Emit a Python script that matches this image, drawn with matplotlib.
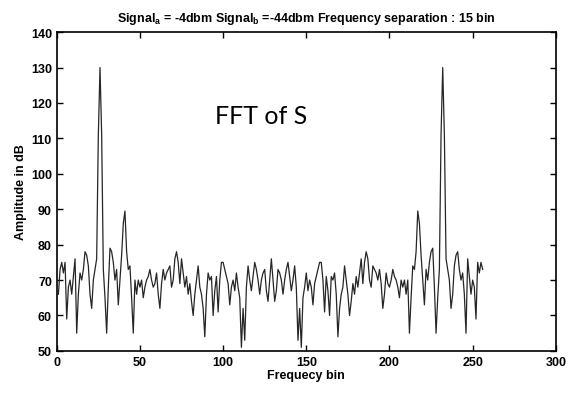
import numpy as np
import matplotlib
matplotlib.use('Agg')
import matplotlib.pyplot as plt

plt.rcParams['font.family'] = ['Liberation Sans', 'DejaVu Sans']
plt.rcParams['mathtext.fontset'] = 'custom'
plt.rcParams['mathtext.bf'] = 'Liberation Sans:bold'
plt.rcParams['mathtext.rm'] = 'Liberation Sans'

# frequency bins 1..256
bins = list(range(1, 257))

# amplitude in dB (bins 1..256)
amp_db = [
    66, 73, 75, 72, 75, 59, 68, 70, 66, 71, 76, 55, 66, 72, 70, 73,
    78, 77, 74, 66, 62, 70, 73, 76, 111, 130, 111, 73, 65, 55, 68, 79,
    78, 75, 70, 73, 63, 70, 77, 86, 89.5, 78, 73, 74, 65, 55, 70, 66,
    70, 68, 70, 65, 68, 70, 71, 73, 70, 68, 69, 72, 66, 62, 69, 73,
    70, 72, 73, 74, 68, 70, 76, 78, 75, 69, 76, 72, 68, 71, 66, 69,
    64, 60, 66, 70, 74, 68, 66, 62, 54, 66, 72, 70, 71, 60, 67, 71,
    61, 70, 75, 75, 73, 71, 69, 63, 68, 70, 67, 72, 68, 65, 51, 62,
    53, 68, 74, 70, 67, 71, 75, 73, 70, 66, 70, 72, 73, 67, 64, 70,
    76,
    70, 64, 67, 73, 72, 70, 66, 70, 73, 75, 71, 67, 70, 74, 68, 53,
    62, 51, 65, 68, 72, 67, 70, 68, 63, 69, 71, 73, 75, 75, 70, 61,
    71, 67, 60, 71, 70, 72, 66, 54, 62, 66, 68, 74, 70, 66, 60, 64,
    69, 66, 71, 68, 72, 76, 69, 75, 78, 76, 70, 68, 74, 73, 72, 70,
    73, 69, 62, 66, 72, 69, 68, 70, 73, 71, 70, 68, 65, 70, 68, 70,
    66, 70, 55, 65, 74, 73, 78, 89.5, 86, 77, 70, 63, 73, 70, 75, 78,
    79, 68, 55, 65, 73, 111, 130, 111, 76, 73, 70, 62, 66, 74, 77, 78,
    73, 70, 72, 66, 55, 76, 71, 66, 70, 68, 59, 75, 72, 75, 73,
]

fig = plt.figure(figsize=(5.79, 4.14), dpi=100)
ax = fig.add_axes([0.098, 0.150, 0.862, 0.770])
ax.plot(bins, amp_db, color='0.15', linewidth=0.9)

ax.set_xlim(0, 300)
ax.set_ylim(50, 140)
ax.set_xticks(np.arange(0, 301, 50))
ax.set_yticks(np.arange(50, 141, 10))
ax.tick_params(direction='in', top=True, right=True, length=4, width=1,
               labelsize=9)
for lab in ax.get_xticklabels() + ax.get_yticklabels():
    lab.set_fontweight('bold')
for s in ax.spines.values():
    s.set_linewidth(1.2)

ax.set_xlabel('Frequecy bin', fontsize=9, fontweight='bold', labelpad=1)
ax.set_ylabel('Amplitude in dB', fontsize=9, fontweight='bold', labelpad=3)
ax.set_title(r'Signal$_\mathbf{a}$ = -4dbm Signal$_\mathbf{b}$ =-44dbm '
             'Frequency separation : 15 bin',
             fontsize=9, fontweight='bold', pad=8)

ax.text(95, 116.5, 'FFT of S', fontsize=18, family=['Lato', 'DejaVu Sans'],
        va='center', ha='left')

fig.savefig('out.png', dpi=100)
